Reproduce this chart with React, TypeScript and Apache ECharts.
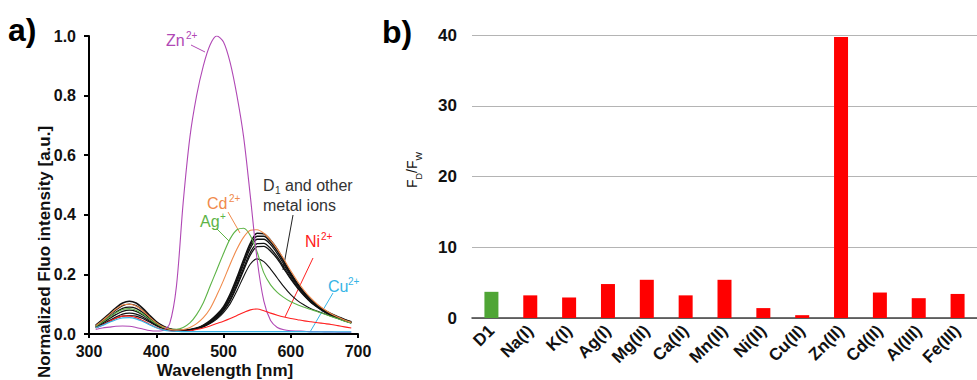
import React, { useEffect, useRef } from "react";
import * as echarts from "echarts";

// ---------- Panel a) spectra ----------
const wavelengths = [310, 320, 330, 340, 350, 360, 370, 380, 390, 400, 410, 420, 430, 440, 450, 460, 470, 480, 490, 500, 510, 520, 530, 540, 550, 560, 570, 580, 590, 600, 610, 620, 630, 640, 650, 660, 670, 680, 690];

const znSpectrum = [0.015, 0.02, 0.023, 0.026, 0.027, 0.026, 0.022, 0.017, 0.012, 0.01, 0.012, 0.035, 0.16, 0.44, 0.66, 0.8, 0.9, 0.97, 1.0, 0.98, 0.91, 0.8, 0.66, 0.46, 0.25, 0.11, 0.045, 0.022, 0.014, 0.011, 0.01, 0.009, 0.008, 0.008, 0.007, 0.007, 0.006, 0.006, 0.006];
const cdSpectrum = [0.028, 0.045, 0.064, 0.083, 0.097, 0.1, 0.094, 0.078, 0.057, 0.038, 0.024, 0.016, 0.013, 0.015, 0.022, 0.035, 0.055, 0.085, 0.13, 0.18, 0.235, 0.285, 0.325, 0.348, 0.35, 0.338, 0.315, 0.285, 0.25, 0.212, 0.177, 0.146, 0.12, 0.099, 0.082, 0.068, 0.057, 0.047, 0.039];
const agSpectrum = [0.025, 0.04, 0.056, 0.071, 0.082, 0.085, 0.08, 0.067, 0.05, 0.034, 0.022, 0.016, 0.016, 0.022, 0.037, 0.065, 0.105, 0.16, 0.215, 0.27, 0.32, 0.35, 0.355, 0.33, 0.275, 0.205, 0.165, 0.14, 0.122, 0.108, 0.098, 0.09, 0.082, 0.075, 0.067, 0.059, 0.051, 0.043, 0.036];
const niSpectrum = [0.02, 0.03, 0.042, 0.053, 0.06, 0.06, 0.055, 0.045, 0.033, 0.022, 0.015, 0.011, 0.009, 0.009, 0.011, 0.015, 0.02, 0.027, 0.035, 0.043, 0.052, 0.062, 0.072, 0.081, 0.084, 0.078, 0.07, 0.063, 0.057, 0.052, 0.048, 0.044, 0.041, 0.038, 0.035, 0.032, 0.028, 0.024, 0.02];
const cuSpectrum = [0.02, 0.029, 0.039, 0.048, 0.054, 0.055, 0.051, 0.042, 0.031, 0.021, 0.014, 0.01, 0.009, 0.008, 0.008, 0.008, 0.008, 0.008, 0.008, 0.008, 0.008, 0.008, 0.008, 0.008, 0.008, 0.008, 0.008, 0.008, 0.008, 0.008, 0.008, 0.008, 0.007, 0.007, 0.007, 0.007, 0.007, 0.007, 0.007];
const d1Spectrum = [0.03, 0.048, 0.068, 0.088, 0.104, 0.11, 0.104, 0.086, 0.063, 0.042, 0.027, 0.018, 0.014, 0.013, 0.015, 0.02, 0.03, 0.045, 0.065, 0.092, 0.135, 0.19, 0.25, 0.305, 0.338, 0.336, 0.315, 0.285, 0.245, 0.205, 0.17, 0.14, 0.115, 0.096, 0.08, 0.068, 0.058, 0.049, 0.041];
const otherIonA = [0.028, 0.045, 0.063, 0.081, 0.095, 0.1, 0.095, 0.079, 0.058, 0.039, 0.025, 0.017, 0.013, 0.012, 0.014, 0.019, 0.028, 0.042, 0.062, 0.088, 0.128, 0.182, 0.242, 0.297, 0.328, 0.328, 0.308, 0.278, 0.24, 0.2, 0.166, 0.137, 0.113, 0.094, 0.079, 0.067, 0.057, 0.048, 0.04];
const otherIonB = [0.026, 0.041, 0.057, 0.073, 0.086, 0.09, 0.086, 0.072, 0.053, 0.036, 0.023, 0.016, 0.012, 0.012, 0.014, 0.019, 0.027, 0.04, 0.06, 0.085, 0.124, 0.176, 0.234, 0.288, 0.318, 0.318, 0.3, 0.27, 0.233, 0.195, 0.162, 0.134, 0.11, 0.092, 0.077, 0.065, 0.055, 0.047, 0.039];
const otherIonC = [0.024, 0.037, 0.051, 0.065, 0.076, 0.08, 0.076, 0.064, 0.048, 0.033, 0.021, 0.015, 0.012, 0.011, 0.013, 0.018, 0.026, 0.038, 0.056, 0.08, 0.116, 0.166, 0.222, 0.274, 0.303, 0.304, 0.287, 0.259, 0.224, 0.188, 0.157, 0.13, 0.107, 0.09, 0.075, 0.064, 0.054, 0.046, 0.038];
const otherIonD = [0.022, 0.033, 0.045, 0.057, 0.067, 0.07, 0.067, 0.057, 0.043, 0.03, 0.02, 0.014, 0.011, 0.011, 0.013, 0.018, 0.025, 0.037, 0.054, 0.078, 0.112, 0.16, 0.214, 0.265, 0.293, 0.294, 0.278, 0.252, 0.218, 0.184, 0.154, 0.128, 0.106, 0.089, 0.074, 0.063, 0.053, 0.045, 0.037];
const otherIonE = [0.021, 0.031, 0.042, 0.053, 0.06, 0.062, 0.06, 0.052, 0.04, 0.028, 0.019, 0.013, 0.011, 0.011, 0.013, 0.017, 0.024, 0.035, 0.05, 0.072, 0.102, 0.145, 0.193, 0.235, 0.252, 0.243, 0.218, 0.188, 0.158, 0.132, 0.112, 0.097, 0.085, 0.076, 0.068, 0.06, 0.052, 0.044, 0.037];

const xTicksA = [300, 400, 500, 600, 700];
const yTicksA = [0, 0.2, 0.4, 0.6, 0.8, 1.0];

// ---------- Panel b) bars ----------
const ions = ["D1", "Na(I)", "K(I)", "Ag(I)", "Mg(II)", "Ca(II)", "Mn(II)", "Ni(II)", "Cu(II)", "Zn(II)", "Cd(II)", "Al(III)", "Fe(III)"];
const ratios = [3.7, 3.2, 2.9, 4.8, 5.4, 3.2, 5.4, 1.4, 0.4, 39.7, 3.6, 2.8, 3.4];
const yTicksB = [0, 10, 20, 30, 40];

const FONT = "'Liberation Sans', Arial, sans-serif";
const C_ZN = "#B048B5";
const C_CD = "#F08A4B";
const C_AG = "#5DB346";
const C_NI = "#FF2020";
const C_CU = "#35B4E6";
const C_BLACK = "#111111";
const C_BAR = "#FF0000";
const C_D1BAR = "#4FA535";

function lineSeries(values: number[], color: string, width: number) {
  return {
    type: "line",
    xAxisIndex: 0,
    yAxisIndex: 0,
    data: wavelengths.map((w, i) => [w, values[i]]),
    showSymbol: false,
    smooth: 0.3,
    silent: true,
    lineStyle: { color, width },
  };
}

function txt(x: number, y: number, text: string, color: string, size: number) {
  return {
    type: "text",
    x,
    y,
    silent: true,
    style: {
      text,
      fill: color,
      font: `${size}px ${FONT}`,
      textAlign: "left",
      textVerticalAlign: "middle",
      verticalAlign: "middle",
    },
  };
}

function leader(x1: number, y1: number, x2: number, y2: number, color: string) {
  return {
    type: "line",
    silent: true,
    shape: { x1, y1, x2, y2 },
    style: { stroke: color, lineWidth: 1 },
  };
}

export default function App() {
  const ref = useRef<HTMLDivElement>(null);
  useEffect(() => {
    document.body.style.margin = "0";
    const chart = echarts.init(ref.current!, null, { renderer: "svg" });
    const axisLabelA = { fontSize: 16, fontWeight: "bold", color: "#111", fontFamily: FONT };
    const option: any = {
      animation: false,
      backgroundColor: "#ffffff",
      textStyle: { fontFamily: FONT },
      grid: [
        { left: 89, top: 36, width: 269, height: 298 },
        { left: 472, top: 35, width: 515, height: 283 },
      ],
      xAxis: [
        {
          type: "value",
          gridIndex: 0,
          min: xTicksA[0],
          max: xTicksA[xTicksA.length - 1],
          interval: 100,
          axisLine: { show: true, lineStyle: { color: "#000", width: 2 } },
          axisTick: { show: true, length: 4, lineStyle: { color: "#000", width: 2 } },
          axisLabel: { ...axisLabelA, margin: 9 },
          splitLine: { show: false },
        },
        {
          type: "category",
          gridIndex: 1,
          data: ions,
          axisLine: { show: true, lineStyle: { color: "#404040", width: 1.5 } },
          axisTick: { show: false },
          axisLabel: { interval: 0, rotate: 45, fontSize: 17, fontWeight: "bold", color: "#111", fontFamily: FONT, margin: 10 },
          splitLine: { show: false },
        },
      ],
      yAxis: [
        {
          type: "value",
          gridIndex: 0,
          min: yTicksA[0],
          max: yTicksA[yTicksA.length - 1],
          interval: 0.2,
          axisLine: { show: true, lineStyle: { color: "#000", width: 2 } },
          axisTick: { show: true, length: 5, lineStyle: { color: "#000", width: 2 } },
          axisLabel: { ...axisLabelA, margin: 13, formatter: (v: number) => v.toFixed(1) },
          splitLine: { show: false },
        },
        {
          type: "value",
          gridIndex: 1,
          min: yTicksB[0],
          max: yTicksB[yTicksB.length - 1],
          interval: 10,
          axisLine: { show: false },
          axisTick: { show: false },
          axisLabel: { fontSize: 17, fontWeight: "bold", color: "#111", fontFamily: FONT, margin: 15 },
          splitLine: { show: true, lineStyle: { color: "#b4b4b4", width: 1.2 } },
        },
      ],
      series: [
        lineSeries(otherIonE, C_BLACK, 1.1),
        lineSeries(otherIonD, C_BLACK, 1.3),
        lineSeries(otherIonC, C_BLACK, 1.3),
        lineSeries(otherIonB, C_BLACK, 1.3),
        lineSeries(otherIonA, C_BLACK, 1.3),
        lineSeries(d1Spectrum, C_BLACK, 1.5),
        lineSeries(agSpectrum, C_AG, 1.1),
        lineSeries(cdSpectrum, C_CD, 1.1),
        lineSeries(znSpectrum, C_ZN, 1.1),
        lineSeries(niSpectrum, C_NI, 1.1),
        lineSeries(cuSpectrum, C_CU, 1.2),
        {
          type: "bar",
          xAxisIndex: 1,
          yAxisIndex: 1,
          barWidth: 14,
          silent: true,
          data: ratios.map((v, i) => ({ value: v, itemStyle: { color: i === 0 ? C_D1BAR : C_BAR } })),
        },
      ],
      graphic: [
        { type: "text", x: 8, y: 30, silent: true, style: { text: "a)", fill: "#000", font: `bold 32px ${FONT}`, textAlign: "left", textVerticalAlign: "middle", verticalAlign: "middle" } },
        { type: "text", x: 382, y: 32, silent: true, style: { text: "b)", fill: "#000", font: `bold 32px ${FONT}`, textAlign: "left", textVerticalAlign: "middle", verticalAlign: "middle" } },
        { type: "text", x: 225, y: 370, silent: true, style: { text: "Wavelength [nm]", fill: "#111", font: `bold 17px ${FONT}`, textAlign: "center", textVerticalAlign: "middle", verticalAlign: "middle" } },
        { type: "text", x: 44, y: 252, rotation: Math.PI / 2, silent: true, style: { text: "Normalized Fluo intensity [a.u.]", fill: "#111", font: `bold 17px ${FONT}`, textAlign: "center", textVerticalAlign: "middle", verticalAlign: "middle" } },
        {
          type: "text", x: 414, y: 170, rotation: Math.PI / 2, silent: true,
          style: {
            text: "{n|F}{s|D}{n|/F}{s|W}", fill: "#111", font: `14px ${FONT}`, textAlign: "center", textVerticalAlign: "middle", verticalAlign: "middle",
            rich: {
              n: { fontSize: 14, fontFamily: FONT, fill: "#111", color: "#111", lineHeight: 18, verticalAlign: "top" },
              s: { fontSize: 9, fontFamily: FONT, fill: "#111", color: "#111", lineHeight: 18, verticalAlign: "bottom" },
            },
          },
        },
        // ion annotations (main text + superscript)
        txt(166, 40, "Zn", C_ZN, 16), txt(186, 35, "2+", C_ZN, 10),
        txt(207, 203, "Cd", C_CD, 16), txt(229, 198, "2+", C_CD, 10),
        txt(200, 221, "Ag", C_AG, 16), txt(220, 216, "+", C_AG, 10),
        txt(305, 241, "Ni", C_NI, 16), txt(321, 236, "2+", C_NI, 10),
        txt(328, 286, "Cu", C_CU, 16), txt(348, 281, "2+", C_CU, 10),
        txt(263, 185, "D", "#333", 16), txt(275, 190, "1", "#333", 10), txt(285, 185, "and other", "#333", 16),
        txt(263, 205, "metal ions", "#333", 16),
        leader(191, 45, 205, 52, C_ZN),
        leader(228, 212, 240, 233, C_CD),
        leader(217, 229, 229, 241, C_AG),
        leader(293, 215, 283, 270, "#222"),
        leader(313, 258, 285, 317, C_NI),
        leader(333, 293, 310, 332, C_CU),
      ],
    };
    chart.setOption(option);
    return () => chart.dispose();
  }, []);
  return <div ref={ref} style={{ width: 977, height: 380 }} />;
}
